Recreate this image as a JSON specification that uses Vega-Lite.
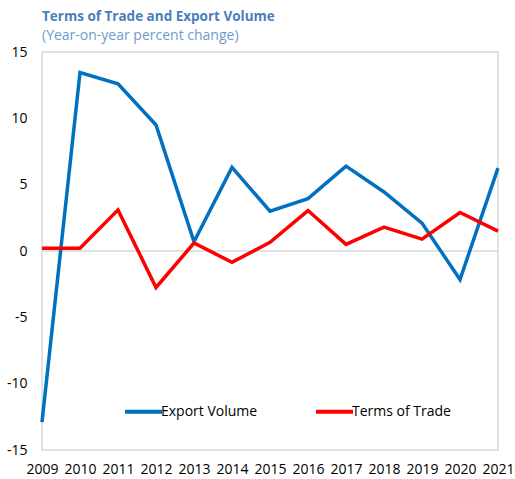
{
  "$schema": "https://vega.github.io/schema/vega-lite/v6.json",
  "autosize": "none",
  "width": 456,
  "height": 398,
  "padding": {"left": 42, "top": 52, "right": 17, "bottom": 29},
  "background": "white",
  "title": {
    "text": "Terms of Trade and Export Volume",
    "subtitle": "(Year-on-year percent change)",
    "anchor": "start",
    "frame": "group",
    "offset": 2,
    "font": "Open Sans",
    "fontSize": 13.5,
    "fontWeight": "bold",
    "color": "#4A7EBB",
    "subtitleFont": "Open Sans",
    "subtitleFontSize": 14,
    "subtitleColor": "#6F9BCB",
    "subtitlePadding": 6
  },
  "config": {
    "view": {"stroke": "#D9D9D9", "strokeWidth": 1.5},
    "font": "Open Sans"
  },
  "data": {
    "values": [
      {"year": 2009, "series": "Export Volume", "value": -12.9},
      {"year": 2010, "series": "Export Volume", "value": 13.45},
      {"year": 2011, "series": "Export Volume", "value": 12.6},
      {"year": 2012, "series": "Export Volume", "value": 9.5},
      {"year": 2013, "series": "Export Volume", "value": 0.7},
      {"year": 2014, "series": "Export Volume", "value": 6.3},
      {"year": 2015, "series": "Export Volume", "value": 3.0},
      {"year": 2016, "series": "Export Volume", "value": 3.95},
      {"year": 2017, "series": "Export Volume", "value": 6.4},
      {"year": 2018, "series": "Export Volume", "value": 4.45},
      {"year": 2019, "series": "Export Volume", "value": 2.1},
      {"year": 2020, "series": "Export Volume", "value": -2.15},
      {"year": 2021, "series": "Export Volume", "value": 6.25},
      {"year": 2009, "series": "Terms of Trade", "value": 0.2},
      {"year": 2010, "series": "Terms of Trade", "value": 0.2},
      {"year": 2011, "series": "Terms of Trade", "value": 3.1},
      {"year": 2012, "series": "Terms of Trade", "value": -2.75},
      {"year": 2013, "series": "Terms of Trade", "value": 0.6},
      {"year": 2014, "series": "Terms of Trade", "value": -0.85},
      {"year": 2015, "series": "Terms of Trade", "value": 0.65},
      {"year": 2016, "series": "Terms of Trade", "value": 3.05},
      {"year": 2017, "series": "Terms of Trade", "value": 0.5},
      {"year": 2018, "series": "Terms of Trade", "value": 1.8},
      {"year": 2019, "series": "Terms of Trade", "value": 0.9},
      {"year": 2020, "series": "Terms of Trade", "value": 2.9},
      {"year": 2021, "series": "Terms of Trade", "value": 1.5}
    ]
  },
  "layer": [
    {
      "data": {"values": [{"zero": 0}]},
      "mark": {"type": "rule", "color": "#D9D9D9", "strokeWidth": 1.5},
      "encoding": {"y": {"field": "zero", "type": "quantitative", "scale": {"domain": [-15, 15]}}}
    },
    {
      "mark": {"type": "line", "strokeWidth": 3.5, "strokeJoin": "miter"},
      "encoding": {
        "x": {
          "field": "year",
          "type": "quantitative",
          "scale": {"domain": [2009, 2021], "nice": false, "zero": false},
          "axis": {
            "title": null,
            "values": [2009, 2010, 2011, 2012, 2013, 2014, 2015, 2016, 2017, 2018, 2019, 2020, 2021],
            "format": "d",
            "grid": false,
            "ticks": false,
            "domain": false,
            "labelPadding": 12,
            "labelFontSize": 14,
            "labelColor": "#000000",
            "labelFont": "Open Sans",
            "labelOverlap": false,
            "labelFlush": false
          }
        },
        "y": {
          "field": "value",
          "type": "quantitative",
          "scale": {"domain": [-15, 15], "nice": false},
          "axis": {
            "title": null,
            "values": [-15, -10, -5, 0, 5, 10, 15],
            "labelExpr": "'' + datum.value",
            "grid": false,
            "ticks": false,
            "domain": false,
            "labelPadding": 15,
            "labelFontSize": 14,
            "labelColor": "#000000",
            "labelFont": "Open Sans"
          }
        },
        "color": {
          "field": "series",
          "type": "nominal",
          "scale": {"domain": ["Export Volume", "Terms of Trade"], "range": ["#0070C0", "#FF0000"]},
          "legend": {
            "title": null,
            "orient": "none",
            "direction": "horizontal",
            "legendX": 81,
            "legendY": 339,
            "symbolType": "stroke",
            "symbolSize": 1369,
            "symbolStrokeWidth": 4,
            "labelFontSize": 14,
            "labelFont": "Open Sans",
            "labelColor": "#000000",
            "labelOffset": -3,
            "columnPadding": 50
          }
        }
      }
    }
  ]
}
